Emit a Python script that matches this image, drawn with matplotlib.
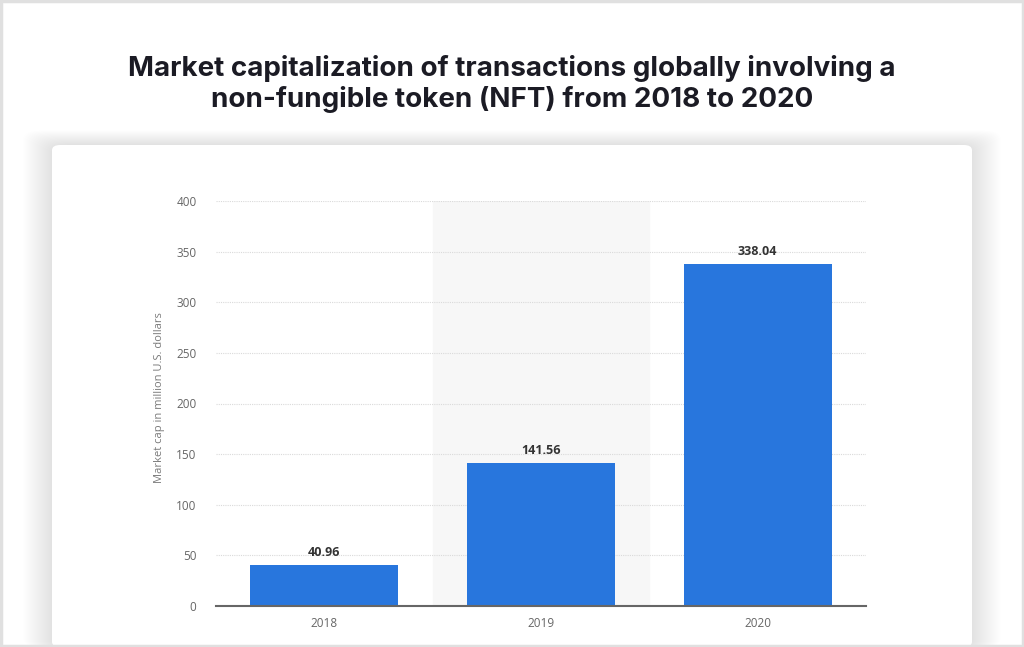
import matplotlib
matplotlib.use("Agg")
import matplotlib.pyplot as plt
from matplotlib.patches import FancyBboxPatch, Rectangle

years = ["2018", "2019", "2020"]
values = [40.96, 141.56, 338.04]
y_ticks = [0, 50, 100, 150, 200, 250, 300, 350, 400]
title = "Market capitalization of transactions globally involving a\nnon-fungible token (NFT) from 2018 to 2020"
ylabel = "Market cap in million U.S. dollars"

W, H = 1024, 647
fig = plt.figure(figsize=(W / 100, H / 100), dpi=100)
fig.patch.set_facecolor("white")

def fx(px):
    return px / W

def fy(py):
    return 1 - py / H

# soft card shadow
for d in range(1, 30):
    fig.patches.append(FancyBboxPatch((fx(52 - d), 0.0), fx(920 + 2 * d), fy(145 - d * 0.5),
                                      boxstyle="round,pad=0,rounding_size=0.015",
                                      transform=fig.transFigure, facecolor="black",
                                      alpha=0.0028, edgecolor="none", zorder=0))
fig.patches.append(FancyBboxPatch((fx(52), 0.0), fx(920), fy(145),
                                  boxstyle="round,pad=0,rounding_size=0.008",
                                  transform=fig.transFigure, facecolor="white",
                                  edgecolor="none", zorder=1))
# outer border
fig.patches.append(Rectangle((0.001, 0.002), 0.998, 0.996, transform=fig.transFigure,
                             fill=False, edgecolor="#e0e0e0", linewidth=2.5, zorder=2))

fig.text(0.5, fy(84), title, ha="center", va="center", fontsize=20,
         fontweight="bold", family="Inter", color="#1b1b24", linespacing=1.22)

ax = fig.add_axes([fx(216), fy(606), fx(866 - 216), fy(201) - fy(606)])
ax.set_facecolor("none")
ax.set_zorder(3)
x = list(range(len(years)))
ax.axvspan(0.5, 1.5, ymin=0, ymax=1.0, color="#f7f7f7", zorder=0)
ax.bar(x, values, width=0.683, color="#2876dd", zorder=3)
for xi, v in zip(x, values):
    ax.annotate(f"{v:.2f}", (xi, v), xytext=(0, 4), textcoords="offset points",
                ha="center", va="bottom", fontsize=9, fontweight="bold",
                color="#333333", family="Open Sans")
ax.set_xlim(-0.5, 2.5)
ax.set_ylim(0, 400)
ax.set_yticks(y_ticks)
ax.set_xticks(x)
ax.set_xticklabels(years)
ax.yaxis.grid(True, color="#dadada", linestyle=(0, (1, 1)), linewidth=0.8, zorder=1)
ax.set_axisbelow(True)
ax.tick_params(axis="both", length=0, labelsize=8.5, labelcolor="#666666")
ax.tick_params(axis="y", pad=14)
ax.tick_params(axis="x", pad=8)
for lab in ax.get_xticklabels() + ax.get_yticklabels():
    lab.set_family("Open Sans")
for s in ["top", "right", "left"]:
    ax.spines[s].set_visible(False)
ax.spines["bottom"].set_color("#666666")
ax.spines["bottom"].set_linewidth(1.5)
ax.spines["bottom"].set_zorder(5)
ax.set_ylabel(ylabel, fontsize=8, color="#7a7a7a", family="Open Sans")
ax.yaxis.set_label_coords((165 - 216) / 650, 0.514)

fig.savefig("out.png", dpi=100)
